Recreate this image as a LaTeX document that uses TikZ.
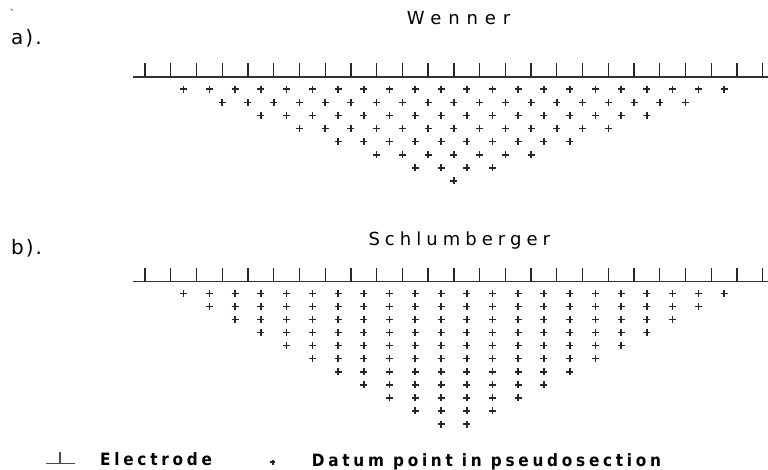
\documentclass[tikz,border=0pt]{standalone}
\usepackage{fontspec}
\setmainfont{DejaVu Sans}
\newfontfamily\panelfont[LetterSpace=10]{DejaVu Sans}
\newfontfamily\wennerfont[LetterSpace=38]{DejaVu Sans}
\newfontfamily\schlumfont[LetterSpace=28]{DejaVu Sans}
\newfontfamily\legendfont[LetterSpace=22]{DejaVu Sans Condensed Bold}

\begin{document}
\begin{tikzpicture}[x=1pt, y=-1pt,
  surface/.style={line width=1.5pt, black!80},
  electrode/.style={line width=1.3pt, black!85},
  datum/.style={line width=1.6pt, black!85},
  panel/.style={anchor=base west, inner sep=0pt, font=\panelfont\fontsize{20}{20}\selectfont},
  title/.style={anchor=base west, inner sep=0pt},
  legend/.style={anchor=base west, inner sep=0pt, font=\legendfont\fontsize{17}{17}\selectfont}
]
  \useasboundingbox (0,0) rectangle (768,470);

  % stray speck
  \draw[line width=1pt, black!70] (11,9) -- (12.5,10.5);

  % Wenner
  \node[panel] (lbla) at (11,45) {a).};
  \node[title, font=\wennerfont\fontsize{18}{18}\selectfont] (wenner) at (406.7,25) {Wenner};
  \draw[surface] (133,77) -- (768,77);
  \foreach \i in {0,...,24}
    \draw[electrode] (145+25.74*\i,77) -- +(0,-14);
  \foreach \n in {1,...,8}{
    \pgfmathsetmacro\y{89.3+13.1*(\n-1)}
    \pgfmathtruncatemacro\cnt{24-3*\n}
    \foreach \k in {0,...,\cnt}{
      \pgfmathsetmacro\x{145+25.74*(1.5*\n+\k)}
      \draw[datum] (\x,\y) +(-3.5,0) -- +(3.5,0) +(0,-3.5) -- +(0,3.5);
    }
  }

  % Schlumberger
  \node[panel] (lblb) at (11,255) {b).};
  \node[title, font=\schlumfont\fontsize{18}{18}\selectfont] (schlum) at (368.3,245.7) {Schlumberger};
  \draw[surface] (133,281.7) -- (768,281.7);
  \foreach \i in {0,...,24}
    \draw[electrode] (145+25.74*\i,281.7) -- +(0,-13.5);
  \foreach \n in {1,...,11}{
    \pgfmathsetmacro\y{293.3+13.07*(\n-1)}
    \pgfmathtruncatemacro\cnt{23-2*\n}
    \foreach \k in {0,...,\cnt}{
      \pgfmathsetmacro\x{145+25.74*(\n+0.5+\k)}
      \draw[datum] (\x,\y) +(-3.5,0) -- +(3.5,0) +(0,-3.5) -- +(0,3.5);
    }
  }

  % Legend
  \draw[line width=1.1pt, black!70] (46,463.3) -- (75,463.3) (60,463.3) -- (60,451.7);
  \node[legend] (elec) at (100,465.5) {Electrode};
  \draw[datum] (272.7,462) +(-2.5,0) -- +(2.5,0) +(0,-2.5) -- +(0,2.5);
  \node[legend] (dat) at (311.7,466) {Datum point in pseudosection};
\end{tikzpicture}
\end{document}
